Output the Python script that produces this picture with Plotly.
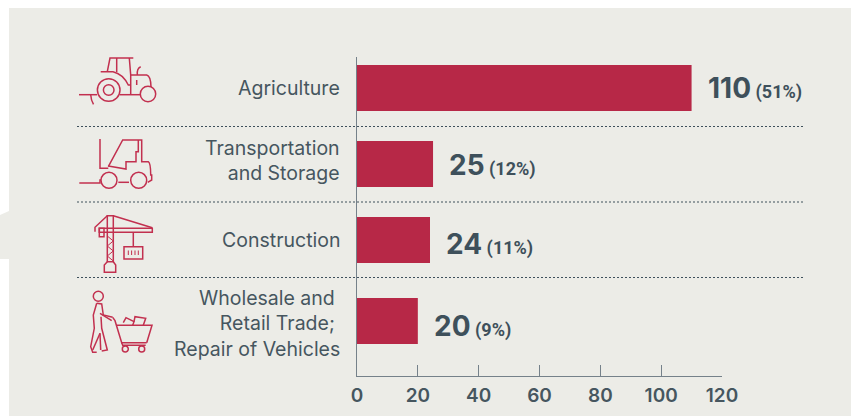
import re
import plotly.graph_objects as go

categories = ["Agriculture", "Transportation<br>and Storage", "Construction",
              "Wholesale and&nbsp;<br>Retail Trade;&nbsp;<br>Repair of Vehicles"]
values = [110, 25, 24, 20]
shares = ["51%", "12%", "11%", "9%"]
x_ticks = [0, 20, 40, 60, 80, 100, 120]

row_pos = [0, 1, 2, 3.066]
label_shift = [0, -1, -4, -5]
category_shift = [0, 4, 0, -2]

W, H = 851, 416
L, R, T, B = 357, 722, 57, 376
BG = "#ECECE7"
CRIMSON = "#B72847"
ICON = "#C2304F"
TEXT = "#46565F"
DARK = "#3E505B"
AXIS = "#75818A"


def px(x):
    return (x - L) / (R - L)


def py(y):
    return (B - y) / (B - T)


def conv(path):
    def rep(m):
        return f"{px(float(m.group(1))):.5f},{py(float(m.group(2))):.5f}"
    return re.sub(r"(-?[\d.]+)[ ,](-?[\d.]+)", rep, path)


shapes = []


def area(path, color):
    shapes.append(dict(type="path", xref="paper", yref="paper", path=conv(path),
                       fillcolor=color, line=dict(width=0), layer="below"))


def stroke(path, w=1.5):
    shapes.append(dict(type="path", xref="paper", yref="paper", path=conv(path),
                       line=dict(color=ICON, width=w), layer="above"))


def circ(cx, cy, r, w=1.5):
    shapes.append(dict(type="circle", xref="paper", yref="paper",
                       x0=px(cx - r), x1=px(cx + r), y0=py(cy - r), y1=py(cy + r),
                       line=dict(color=ICON, width=w), layer="above"))


# page background
area("M0 0 L851 0 L851 8 L9 8 L9 416 L0 416 Z", "#FFFFFF")
area("M0 215 L9 211 L9 259 L0 259 Z", BG)

# row separators
for yy in (126.5, 202, 277.5):
    shapes.append(dict(type="line", xref="paper", yref="paper", x0=px(77), x1=px(805),
                       y0=py(yy), y1=py(yy),
                       line=dict(color=DARK, width=1, dash="2px,2px"), layer="above"))

# tractor
circ(108.7, 90, 11.3)
circ(108.7, 90, 5.3)
circ(148, 94, 7.7)
stroke("M79 94.7 L97 94.7")
stroke("M90.7 94.7 Q91 100 93.5 104.3")
stroke("M120 94.7 L140.7 94.7")
stroke("M107.3 71.7 L110 58 L133.3 58")
stroke("M116.7 58 L116.7 72")
stroke("M129.3 58 L130.7 75 L130.7 94.7")
stroke("M100.7 71.7 L113 71.7 Q123 74 128.3 85 L130.7 85")
stroke("M130.7 75 L146.7 75 Q150.7 76 151 86.7")
stroke("M137.3 75 Q136.7 68.3 140.7 66.7")
stroke("M136.7 80 L136.7 85")

# forklift
circ(109, 180.3, 8)
circ(138.7, 180.3, 8)
stroke("M100 139 L100 168.3 L108.3 168.3")
stroke("M108.3 166.7 L122.7 140 L141.7 140 L141.7 161.7 L148.3 161.7 Q150.7 163 150.7 175 L151.7 175 L151.7 180 L147.7 182.3")
stroke("M138.3 140 L138.3 151.7 L136 151.7 L136 161.7 L126 161.7 L126 169 L108.3 166")
stroke("M79.3 183 L100 183 L100 180 L101 180")
stroke("M118.3 182.3 L129 182.3")

# crane
stroke("M107.3 215.7 L113.3 215.7 L113.3 261.7 L107.3 261.7 Z")
stroke("M113.3 215.7 L152.3 227.7")
stroke("M99.3 228.3 L152.3 228.3 L152.3 232.3 L99.3 232.3 Z")
stroke("M99.3 228.3 L104 228.3 L104 236.7 L99.3 236.7 Z")
stroke("M107.3 215.7 L95 227.3 L95 231.7")
stroke("M107.3 236 L113.3 241 L107.3 246 L113.3 251 L107.3 256 L113.3 261", 1)
stroke("M133.3 232.3 L133.3 246.7")
stroke("M124 246.7 L142.7 246.7 L142.7 259 L124 259 Z")
for bx in (128.3, 131.6, 135, 138.3):
    stroke(f"M{bx} 250.5 L{bx} 255", 1)
stroke("M107.3 261.7 L104.3 265 L104.3 272.3 L115.7 272.3 L115.7 265 L113.3 261.7")

# shopper with trolley
circ(98.3, 296.3, 5)
stroke("M96.7 303.3 L93.3 315 L94.3 328.3 L90.7 346.7 L92.7 352.3 L96.7 352.3")
stroke("M96.7 303.3 L101.7 304 L103.3 315 L112.7 317.3")
stroke("M100 313.3 L111.7 320.7")
stroke("M101 316.7 L101.7 328.3 L107.3 350 L101.7 351")
stroke("M100 333.3 L100.7 350")
stroke("M100 333.3 L92.7 350")
stroke("M112.7 317.3 L115 320.7 L121.7 342.7 L146.7 342.7")
stroke("M116.7 325.3 L152 325.3 L146.7 342.7")
stroke("M121.7 342.7 L122.7 345.3 L145.7 345.3")
circ(125.3, 349, 3)
circ(141.7, 349, 3)
stroke("M123.3 322.7 L126 317.7 L134 321.7 L132.7 325.3")
stroke("M134 321.7 L135 316.7 L145.7 318.3 L143.3 325.3")

annotations = [
    dict(x=v, y=r, xref="x", yref="y", xanchor="left", yanchor="middle",
         xshift=14, yshift=s, showarrow=False, align="left",
         text=f"<b><span style=\"font-size:28px\">{v}</span>"
              f"<span style=\"font-size:18px;font-family:Roboto\"> ({p})</span></b>",
         font=dict(family="Inter, Liberation Sans", color=DARK, size=28))
    for v, p, r, s in zip(values, shares, row_pos, label_shift)
] + [
    dict(x=0, y=r, xref="x", yref="y", xanchor="right", yanchor="middle",
         xshift=-15, yshift=s, showarrow=False, align="right", text=c,
         font=dict(family="Inter, Lato", color=TEXT, size=19.5))
    for c, r, s in zip(categories, row_pos, category_shift)
]

fig = go.Figure(go.Bar(
    x=values, y=row_pos, orientation="h", width=0.605,
    marker=dict(color=CRIMSON, line=dict(width=0)),
    hoverinfo="skip",
))

fig.update_layout(
    width=W, height=H,
    margin=dict(l=L, r=W - R, t=T, b=H - B, autoexpand=False),
    paper_bgcolor=BG,
    plot_bgcolor="rgba(0,0,0,0)",
    showlegend=False,
    shapes=shapes,
    annotations=annotations,
    xaxis=dict(range=[0, 120], tickvals=x_ticks, ticks="inside", ticklen=11, tickwidth=1.3,
               tickcolor=AXIS, showline=True, linecolor=AXIS, linewidth=1.2,
               showgrid=False, zeroline=False, ticklabelstandoff=2,
               tickfont=dict(family="Inter, Lato", size=19, color=TEXT, weight=600)),
    yaxis=dict(range=[3.789, -0.408], tickvals=row_pos, showticklabels=False, ticks="",
               showline=True, linecolor=AXIS, linewidth=1.2, showgrid=False, zeroline=False),
)

fig.write_html("out.html", config={"displayModeBar": False},
               post_script="document.body.style.margin='0';document.body.style.overflow='hidden';")
